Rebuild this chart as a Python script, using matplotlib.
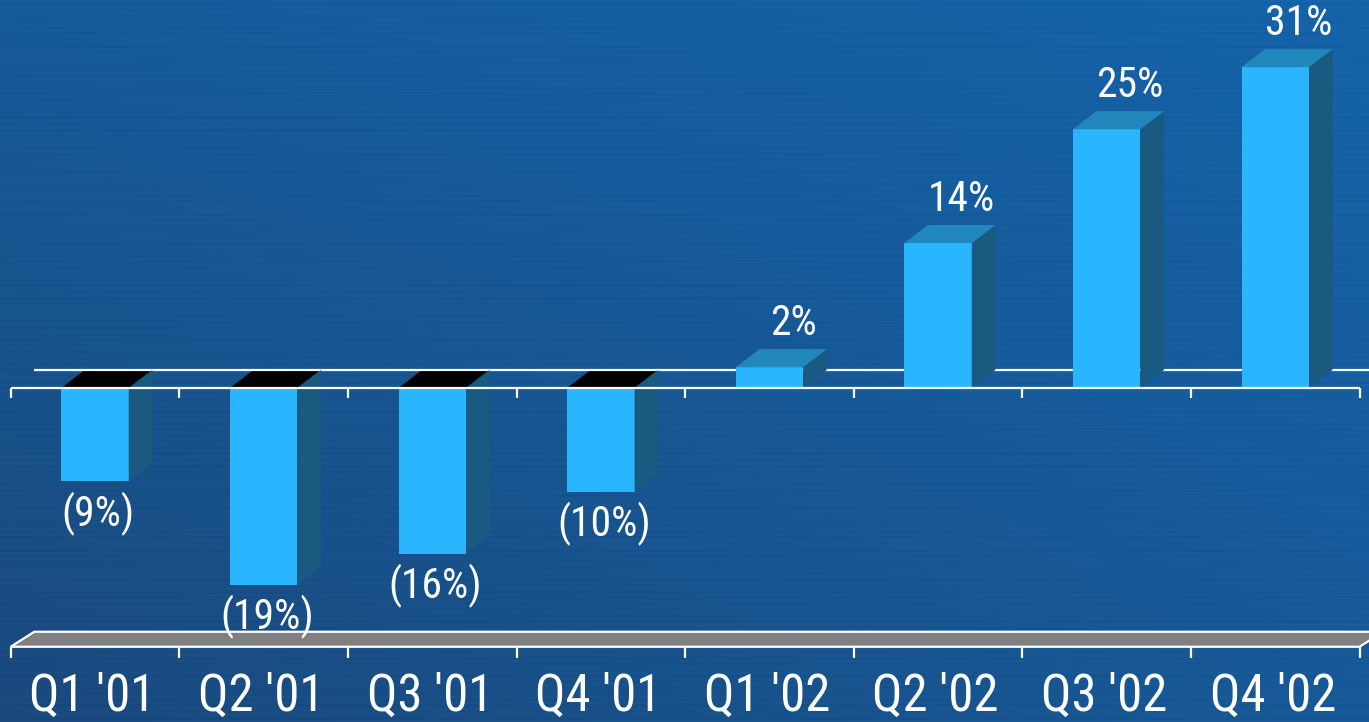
import numpy as np
import matplotlib.pyplot as plt
from matplotlib.patches import Polygon, Rectangle

quarters = ["Q1 '01", "Q2 '01", "Q3 '01", "Q4 '01", "Q1 '02", "Q2 '02", "Q3 '02", "Q4 '02"]
growth = [-9, -19, -16, -10, 2, 14, 25, 31]
floor_value = -25

FRONT = '#29b6ff'
SIDE = '#1a5a80'
TOP = '#2288bb'
FONT = ['Roboto Condensed', 'Roboto', 'DejaVu Sans']

W = 0.40           # bar width (category units)
DX, DY = 0.14, 1.75  # depth of bars / back wall
FDX, FDY = 0.14, 1.45  # depth of floor slab

fig = plt.figure(figsize=(13.69, 7.22), dpi=100)
ax = fig.add_axes([0, 0, 1, 1])
ax.set_xlim(-0.5635, 7.556)
ax.set_ylim(-32.27, 37.49)
ax.axis('off')

# blue backdrop: diagonal gradient with faint horizontal streaks
h, w = 361, 685
yy, xx = np.mgrid[0:1:h * 1j, 0:1:w * 1j]
tl = np.array([0x14, 0x5a, 0x98]) / 255
tr = np.array([0x14, 0x62, 0xa8]) / 255
bl = np.array([0x19, 0x48, 0x7c]) / 255
br = np.array([0x16, 0x58, 0x96]) / 255
img = ((1 - yy)[..., None] * ((1 - xx)[..., None] * tl + xx[..., None] * tr)
       + yy[..., None] * ((1 - xx)[..., None] * bl + xx[..., None] * br))
rows = np.arange(h)
streak = 0.012 * ((rows % 3) == 0) - 0.006 * ((rows % 7) == 2)
img = np.clip(img + streak[:, None, None], 0, 1)
ax.imshow(img, extent=[*ax.get_xlim(), *ax.get_ylim()], aspect='auto',
          origin='upper', zorder=0)

n = len(quarters)
left, right = -0.5, n - 0.5
edge = dict(color='white', lw=1.6, solid_capstyle='butt')

# floor slab
ax.add_patch(Polygon([(left, floor_value), (right, floor_value),
                      (right + FDX, floor_value + FDY), (left + FDX, floor_value + FDY)],
                     closed=True, facecolor='#808080', edgecolor='white', lw=1.6, zorder=1))
for b in np.arange(left, right + 0.01, 1.0):
    ax.plot([b, b], [floor_value, floor_value - 1.05], **edge, zorder=2)

# back line of the zero plane
ax.plot([left + DX, right + DX + 0.3], [DY, DY], **edge, zorder=3)

for i, v in enumerate(growth):
    x0, x1 = i - W / 2, i + W / 2
    z = 4 if v < 0 else 5
    ax.add_patch(Rectangle((x0, 0), W, v, facecolor=FRONT, lw=0, zorder=z))
    ax.add_patch(Polygon([(x1, 0), (x1, v), (x1 + DX, v + DY), (x1 + DX, DY)],
                         closed=True, facecolor=SIDE, lw=0, zorder=z))
    if v < 0:
        ax.add_patch(Polygon([(x0, 0), (x1, 0), (x1 + DX, DY), (x0 + DX, DY)],
                             closed=True, facecolor='black', lw=0, zorder=2.5))
        ax.text(i + 0.02, v - 1.0, f'({abs(v)}%)', ha='center', va='top',
                color='white', fontsize=30, family=FONT, zorder=6)
    else:
        ax.add_patch(Polygon([(x0, v), (x1, v), (x1 + DX, v + DY), (x0 + DX, v + DY)],
                             closed=True, facecolor=TOP, lw=0, zorder=z))
        ax.text(i + 0.14, v + DY + 1.4, f'{v}%', ha='center', va='baseline',
                color='white', fontsize=30, family=FONT, zorder=6)

# front line of the zero plane with category ticks
ax.plot([left, right], [0, 0], **edge, zorder=7)
for b in np.arange(left, right + 0.01, 1.0):
    ax.plot([b, b], [0, -1.0], **edge, zorder=7)

for i, q in enumerate(quarters):
    ax.text(i - 0.015, -32.2, q, ha='center', va='bottom', color='white',
            fontsize=36.5, family=FONT)

fig.savefig('out.png', dpi=100)
